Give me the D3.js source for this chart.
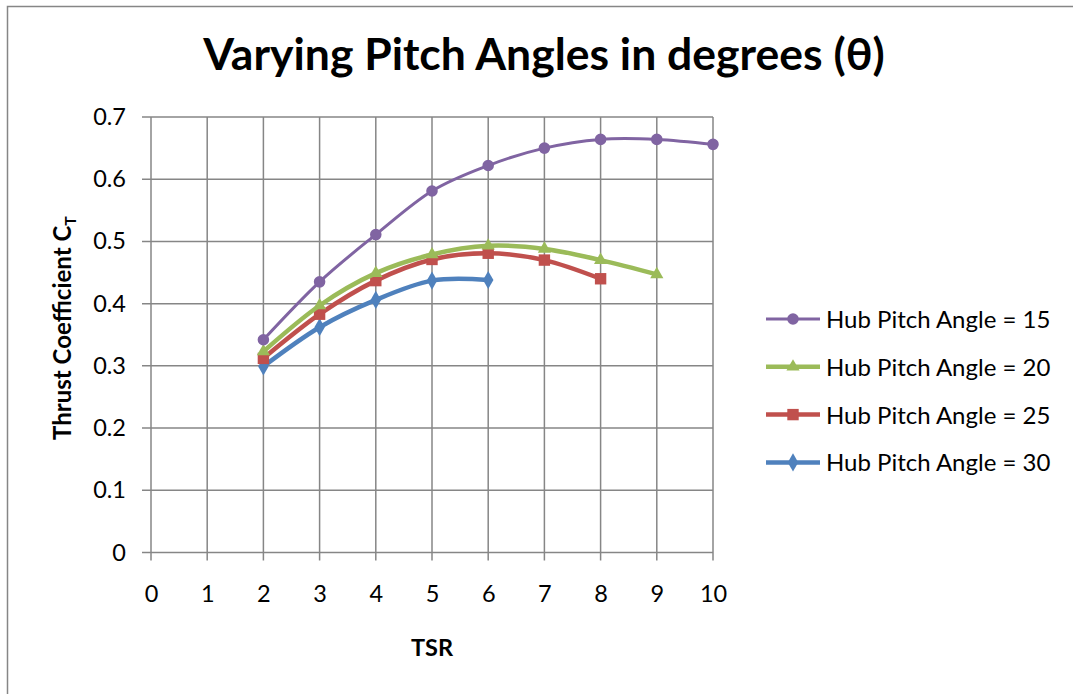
<!DOCTYPE html>
<html>
<head>
<meta charset="utf-8">
<script src="https://cdn.jsdelivr.net/npm/d3@7"></script>
<style>
  html, body { margin: 0; padding: 0; background: #fff; }
  svg { display: block; }
  text { font-family: Lato, "Open Sans", sans-serif; fill: #000; }
</style>
</head>
<body>
<script>
// Thrust coefficient against tip speed ratio for four hub pitch angles
const tsr15 = [2, 3, 4, 5, 6, 7, 8, 9, 10];
const ct15  = [0.342, 0.435, 0.511, 0.581, 0.622, 0.650, 0.664, 0.664, 0.656];
const tsr20 = [2, 3, 4, 5, 6, 7, 8, 9];
const ct20  = [0.323, 0.397, 0.449, 0.479, 0.493, 0.488, 0.470, 0.447];
const tsr25 = [2, 3, 4, 5, 6, 7, 8];
const ct25  = [0.312, 0.383, 0.437, 0.471, 0.481, 0.470, 0.440];
const tsr30 = [2, 3, 4, 5, 6];
const ct30  = [0.299, 0.362, 0.406, 0.437, 0.438];

const seriesNames = ["Hub Pitch Angle = 15", "Hub Pitch Angle = 20", "Hub Pitch Angle = 25", "Hub Pitch Angle = 30"];
const xTicks = [0, 1, 2, 3, 4, 5, 6, 7, 8, 9, 10];
const yTicks = [0, 0.1, 0.2, 0.3, 0.4, 0.5, 0.6, 0.7];

const W = 1073, H = 694;
const svg = d3.select("body").append("svg").attr("width", W).attr("height", H);

// chart frame
svg.append("rect").attr("x", 7.5).attr("y", 6.5).attr("width", 1100).attr("height", 720)
  .attr("fill", "#fff").attr("stroke", "#868686").attr("stroke-width", 1.5);

const x = d3.scaleLinear().domain([0, 10]).range([151, 713]);
const y = d3.scaleLinear().domain([0, 0.7]).range([552.5, 117]);
const gridColor = "#868686";

// gridlines
const grid = svg.append("g");
grid.selectAll("line.v").data(xTicks).join("line")
  .attr("x1", d => x(d)).attr("x2", d => x(d))
  .attr("y1", y(0.7)).attr("y2", y(0) + 8)
  .attr("stroke", gridColor).attr("stroke-width", 1.5);
grid.selectAll("line.h").data(yTicks).join("line")
  .attr("x1", x(0) - 9).attr("x2", x(10))
  .attr("y1", d => y(d)).attr("y2", d => y(d))
  .attr("stroke", gridColor).attr("stroke-width", 1.5);

// tick labels via d3 axes (lines hidden; grid draws them)
const xAxis = svg.append("g").attr("transform", `translate(0,${y(0)})`)
  .call(d3.axisBottom(x).tickValues(xTicks).tickFormat(d3.format("d")).tickSize(0).tickPadding(33));
xAxis.select(".domain").remove();
xAxis.selectAll("text").attr("font-size", 23.5).attr("font-family", "Lato, sans-serif").attr("fill", "#000");

const yAxis = svg.append("g").attr("transform", `translate(${x(0)},0)`)
  .call(d3.axisLeft(y).tickValues(yTicks).tickFormat(d => d === 0 ? "0" : d3.format(".1f")(d)).tickSize(0).tickPadding(25));
yAxis.select(".domain").remove();
yAxis.selectAll("text").attr("font-size", 23.5).attr("font-family", "Lato, sans-serif").attr("fill", "#000");

// title
svg.append("text").attr("x", 544).attr("y", 70).attr("text-anchor", "middle")
  .attr("font-size", 44.5).attr("font-weight", "bold").text("Varying Pitch Angles in degrees (θ)");

// axis titles
svg.append("text").attr("x", 432).attr("y", 656).attr("text-anchor", "middle")
  .attr("font-size", 23.5).attr("font-weight", "bold").text("TSR");
const yt = svg.append("text").attr("transform", "translate(71,328) rotate(-90)")
  .attr("text-anchor", "middle").attr("font-size", 24).attr("font-weight", "bold");
yt.append("tspan").text("Thrust Coefficient C");
yt.append("tspan").attr("font-size", 16).attr("dy", 5).text("T");

const series = [
  { name: seriesNames[0], xs: tsr15, ys: ct15, color: "#8064A2", width: 3, symbol: d3.symbolCircle, size: 105 },
  { name: seriesNames[1], xs: tsr20, ys: ct20, color: "#9BBB59", width: 4.5, symbol: d3.symbolTriangle, size: 75 },
  { name: seriesNames[2], xs: tsr25, ys: ct25, color: "#C0504D", width: 4.5, symbol: d3.symbolSquare, size: 130 },
  { name: seriesNames[3], xs: tsr30, ys: ct30, color: "#4F81BD", width: 4.5, symbol: d3.symbolDiamond, size: 95 }
];

const line = d3.line().x(d => x(d[0])).y(d => y(d[1])).curve(d3.curveCardinal.tension(0));

// later series sit underneath, so draw them first
const plot = svg.append("g");
series.slice().reverse().forEach(s => {
  const pts = s.xs.map((v, i) => [v, s.ys[i]]);
  plot.append("path").datum(pts).attr("d", line)
    .attr("fill", "none").attr("stroke", s.color).attr("stroke-width", s.width)
    .attr("stroke-linejoin", "round").attr("stroke-linecap", "round");
  plot.selectAll(null).data(pts).join("path")
    .attr("transform", d => `translate(${x(d[0])},${y(d[1])})`)
    .attr("d", d3.symbol().type(s.symbol).size(s.size))
    .attr("fill", s.color);
});

// legend
const legend = svg.append("g");
series.forEach((s, i) => {
  const ly = 319 + i * 47.8;
  legend.append("line").attr("x1", 766).attr("x2", 820).attr("y1", ly).attr("y2", ly)
    .attr("stroke", s.color).attr("stroke-width", s.width);
  legend.append("path").attr("transform", `translate(793,${ly})`)
    .attr("d", d3.symbol().type(s.symbol).size(s.size)).attr("fill", s.color);
  legend.append("text").attr("x", 826).attr("y", ly + 9).attr("font-size", 24).text(s.name);
});
</script>
</body>
</html>
